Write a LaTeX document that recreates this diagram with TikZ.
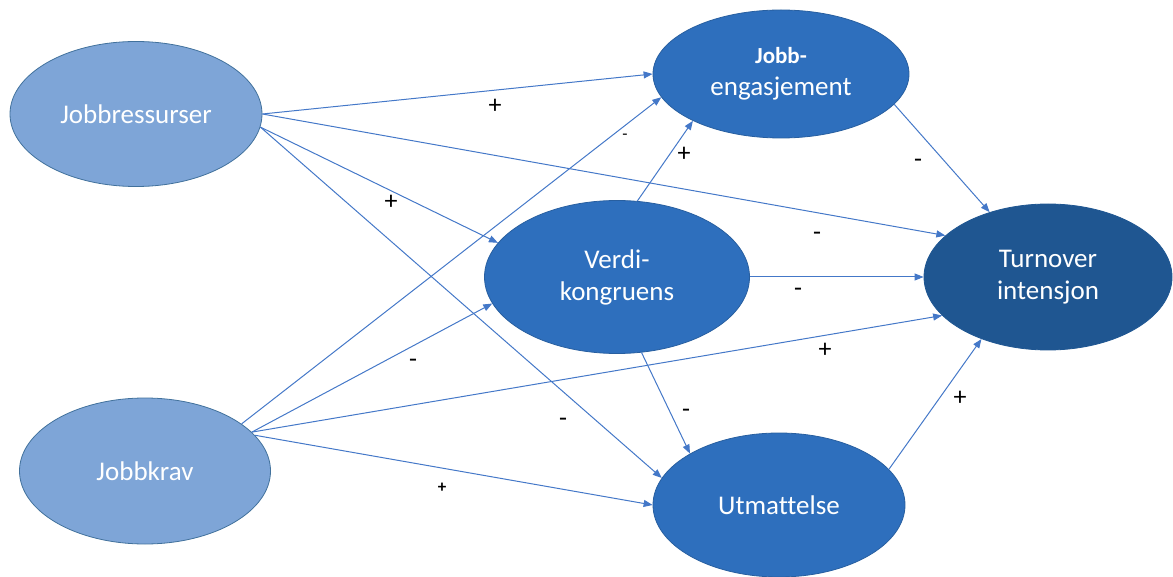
\documentclass[tikz,border=0pt]{standalone}
\usepackage{fontspec}
\setmainfont{Carlito}[Ligatures={NoCommon}]
\usetikzlibrary{shapes.geometric,arrows.meta}
\definecolor{lightfill}{RGB}{126,165,215}
\definecolor{lightdraw}{RGB}{65,113,156}
\definecolor{midfill}{RGB}{46,111,189}
\definecolor{midraw}{RGB}{40,95,160}
\definecolor{darkfill}{RGB}{31,86,145}
\definecolor{linecol}{RGB}{68,120,200}
\begin{document}
\begin{tikzpicture}[x=1pt,y=-1pt,
  ell/.style={shape=ellipse, inner sep=0pt, align=center, text=white,
    font=\fontsize{27}{32}\selectfont, line width=0.8pt},
  lite/.style={ell, fill=lightfill, draw=lightdraw},
  mid/.style={ell, fill=midfill, draw=midraw},
  dark/.style={ell, fill=darkfill, draw=darkfill},
  conn/.style={draw=linecol, line width=1pt, -{Triangle[length=9pt,width=7pt]}},
  sign/.style={font=\fontsize{26}{28}\selectfont, text=black, inner sep=0pt}
]
\useasboundingbox (0,0) rectangle (1173,577);

\node[lite, minimum width=252pt, minimum height=145pt] (jr) at (136,114) {Jobbressurser};
\node[lite, minimum width=251pt, minimum height=146pt] (jk) at (145,471) {Jobbkrav};
\node[mid, minimum width=256pt, minimum height=128pt] (je) at (781,74)
  {{\bfseries\fontsize{23}{32}\selectfont Jobb-}\\engasjement};
\node[mid, minimum width=265pt, minimum height=153pt] (vk) at (617,277) {Verdi-\\kongruens};
\node[dark, minimum width=248pt, minimum height=146pt] (ti) at (1048,277) {Turnover\\intensjon};
\node[mid, minimum width=252pt, minimum height=144pt] (ut) at (779,505) {Utmattelse};

% connectors
\draw[conn] (jr.east) -- (je.west);
\draw[conn] (jr.east) -- (ti.158);
\draw[conn] (jr.354) -- (vk.164);
\draw[conn] (jr.354) -- (ut.167);
\draw[conn] (jk.26) -- (je.191);
\draw[conn] (jk.20) -- (vk.192);
\draw[conn] (jk.20) -- (ti.200);
\draw[conn] (jk.18) -- (ut.west);
\draw[conn] (vk.75) -- (je.208);
\draw[conn] (vk.east) -- (ti.west);
\draw[conn] (vk.288) -- (ut.150);
\draw[conn] (je.345) -- (ti.132);
\draw[conn] (ut.18) -- (ti.223);

% signs
\node[sign] (s1) at (495,106) {+};
\node[sign, font=\fontsize{17}{20}\selectfont] (s2) at (625,137) {-};
\node[sign] (s3) at (684,154) {+};
\node[sign] (s4) at (391,202) {+};
\node[sign] (s5) at (918,163) {-};
\node[sign] (s6) at (817,236) {-};
\node[sign] (s7) at (798,292) {-};
\node[sign] (s8) at (825,350) {+};
\node[sign] (s9) at (413,363) {-};
\node[sign] (s10) at (563,422) {-};
\node[sign] (s11) at (686,413) {-};
\node[sign] (s12) at (960,398) {+};
\node[sign, font=\bfseries\fontsize{17}{20}\selectfont] (s13) at (442,488) {+};
\end{tikzpicture}
\end{document}
